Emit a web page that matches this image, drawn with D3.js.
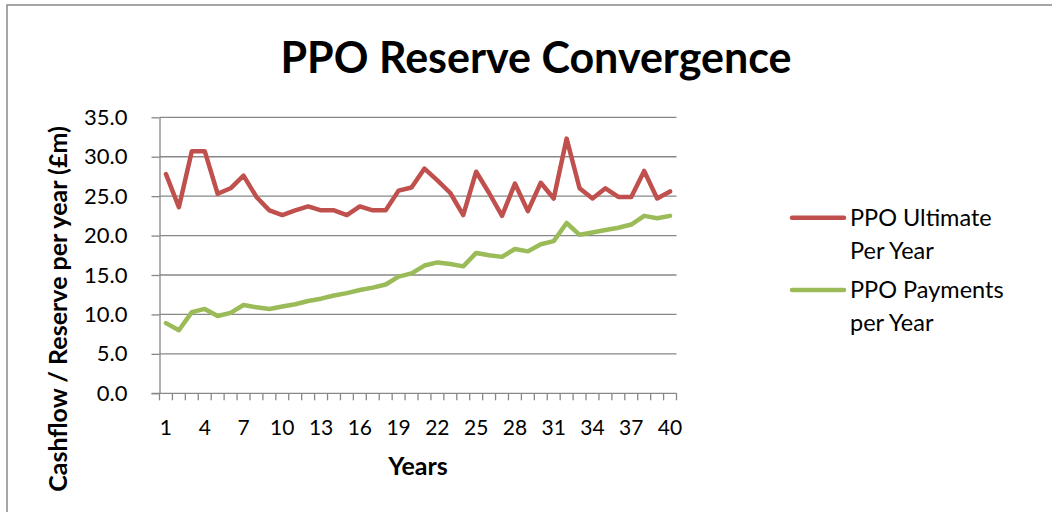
<!DOCTYPE html>
<html>
<head>
<meta charset="utf-8">
<script src="https://cdn.jsdelivr.net/npm/d3@7"></script>
<style>
  body { margin: 0; background: #fff; }
  text { font-family: Lato, "Open Sans", sans-serif; fill: #000; }
</style>
</head>
<body>
<svg id="chart"></svg>
<script>
var width = 1052;
var height = 512;

var years = d3.range(1, 41);
var ultimate = [27.8, 23.6, 30.7, 30.7, 25.3, 26.0, 27.6, 24.9, 23.2, 22.6,
  23.2, 23.7, 23.2, 23.2, 22.6, 23.7, 23.2, 23.2, 25.7, 26.1,
  28.5, 27.0, 25.4, 22.6, 28.1, 25.4, 22.5, 26.6, 23.1, 26.7,
  24.7, 32.3, 26.0, 24.7, 26.0, 24.9, 24.9, 28.2, 24.7, 25.6];
var payments = [8.9, 8.0, 10.3, 10.7, 9.8, 10.2, 11.2, 10.9, 10.7, 11.0,
  11.3, 11.7, 12.0, 12.4, 12.7, 13.1, 13.4, 13.8, 14.8, 15.2,
  16.2, 16.6, 16.4, 16.1, 17.8, 17.5, 17.3, 18.3, 18.0, 18.9,
  19.3, 21.6, 20.1, 20.4, 20.7, 21.0, 21.4, 22.5, 22.2, 22.5];
var yTicks = [0, 5, 10, 15, 20, 25, 30, 35];
var seriesNames = [['PPO Ultimate', 'Per Year'], ['PPO Payments', 'per Year']];
var colors = ['#C0504D', '#9BBB59'];

var plotLeft = 159.5, plotRight = 676.5, plotTop = 117.3, plotBottom = 393.3;
var axisColor = '#878787';

var svg = d3.select('#chart')
  .attr('width', width)
  .attr('height', height);

// chart frame (right and bottom are cut off in the picture)
svg.append('rect')
  .attr('x', 7)
  .attr('y', 5)
  .attr('width', 1100)
  .attr('height', 600)
  .attr('fill', 'none')
  .attr('stroke', '#888')
  .attr('stroke-width', 1.5);

var xScale = d3.scaleBand()
  .domain(years)
  .range([plotLeft, plotRight]);

var yScale = d3.scaleLinear()
  .domain([0, 35])
  .range([plotBottom, plotTop]);

// gridlines
svg.append('g')
  .selectAll('line')
  .data(yTicks.slice(1))
  .enter()
  .append('line')
  .attr('x1', plotLeft)
  .attr('x2', plotRight)
  .attr('y1', d => yScale(d))
  .attr('y2', d => yScale(d))
  .attr('stroke', axisColor)
  .attr('stroke-width', 1.3);

// y axis
var yAxis = svg.append('g')
  .attr('transform', 'translate(' + plotLeft + ',0)')
  .call(d3.axisLeft(yScale)
    .tickValues(yTicks)
    .tickSize(8)
    .tickSizeOuter(0)
    .tickPadding(24)
    .tickFormat(d3.format('.1f')));

yAxis.selectAll('text')
  .style('font-size', '22px');
yAxis.select('.domain')
  .attr('stroke', axisColor)
  .attr('stroke-width', 1.3);
yAxis.selectAll('.tick line')
  .attr('stroke', axisColor)
  .attr('stroke-width', 1.3);

// x axis with ticks on category boundaries
var xAxis = svg.append('g')
  .attr('transform', 'translate(0,' + plotBottom + ')');

xAxis.append('line')
  .attr('x1', plotLeft - 8)
  .attr('x2', plotRight)
  .attr('stroke', axisColor)
  .attr('stroke-width', 1.3);

xAxis.selectAll('.bt')
  .data(years.concat([41]))
  .enter()
  .append('line')
  .attr('class', 'bt')
  .attr('x1', d => d <= 40 ? xScale(d) : plotRight)
  .attr('x2', d => d <= 40 ? xScale(d) : plotRight)
  .attr('y1', 0)
  .attr('y2', 7)
  .attr('stroke', axisColor)
  .attr('stroke-width', 1.3);

xAxis.selectAll('.xl')
  .data(years.filter(d => (d - 1) % 3 === 0))
  .enter()
  .append('text')
  .attr('class', 'xl')
  .attr('x', d => xScale(d) + xScale.bandwidth() / 2)
  .attr('y', 42)
  .style('text-anchor', 'middle')
  .style('font-size', '21px')
  .text(d => d);

// lines
var line = d3.line()
  .x((d, i) => xScale(years[i]) + xScale.bandwidth() / 2)
  .y(d => yScale(d));

[ultimate, payments].forEach(function(series, i) {
  svg.append('path')
    .datum(series)
    .attr('d', line)
    .attr('fill', 'none')
    .attr('stroke', colors[i])
    .attr('stroke-width', 4.5)
    .attr('stroke-linejoin', 'round')
    .attr('stroke-linecap', 'round');
});

// title
svg.append('text')
  .attr('x', 536)
  .attr('y', 73)
  .style('text-anchor', 'middle')
  .style('font-size', '43px')
  .style('font-weight', 'bold')
  .text('PPO Reserve Convergence');

// axis titles
svg.append('text')
  .attr('x', 418)
  .attr('y', 475)
  .style('text-anchor', 'middle')
  .style('font-size', '25px')
  .style('font-weight', 'bold')
  .text('Years');

svg.append('text')
  .attr('transform', 'rotate(-90)')
  .attr('x', -309)
  .attr('y', 67)
  .style('text-anchor', 'middle')
  .style('font-size', '25px')
  .style('font-weight', 'bold')
  .text('Cashflow / Reserve per year (£m)');

// legend
var legend = svg.append('g');
[217.7, 290].forEach(function(ly, i) {
  legend.append('line')
    .attr('x1', 792)
    .attr('x2', 844)
    .attr('y1', ly)
    .attr('y2', ly)
    .attr('stroke', colors[i])
    .attr('stroke-width', 4.5)
    .attr('stroke-linecap', 'round');
  seriesNames[i].forEach(function(t, j) {
    legend.append('text')
      .attr('x', 850)
      .attr('y', ly + 8 + j * 33)
      .style('font-size', '23.5px')
      .text(t);
  });
});
</script>
</body>
</html>
